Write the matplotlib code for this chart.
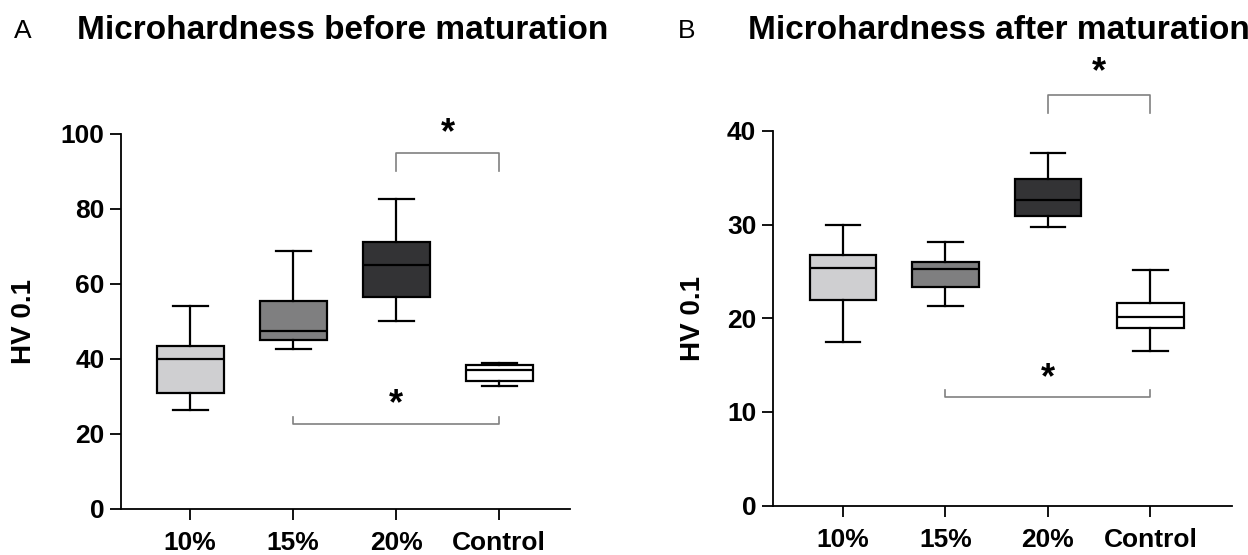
import matplotlib.pyplot as plt

plt.rcParams['font.family'] = ['Liberation Sans', 'DejaVu Sans']

groups = ['10%', '15%', '20%', 'Control']
box_colors = ['#cfcfd1', '#7f7f80', '#333335', '#ffffff']

# before maturation (HV 0.1): whisker low, Q1, median, Q3, whisker high
before_low = [26.4, 42.7, 50.0, 32.9]
before_q1 = [30.8, 45.1, 56.4, 34.2]
before_med = [39.9, 47.3, 64.9, 36.9]
before_q3 = [43.3, 55.4, 71.1, 38.3]
before_high = [54.0, 68.7, 82.6, 38.8]

# after maturation
after_low = [17.5, 21.3, 29.8, 16.5]
after_q1 = [21.9, 23.3, 30.95, 19.0]
after_med = [25.4, 25.3, 32.6, 20.1]
after_q3 = [26.8, 26.0, 34.9, 21.6]
after_high = [30.0, 28.1, 37.6, 25.2]


def make_stats(low, q1, med, q3, high):
    return [dict(whislo=a, q1=b, med=c, q3=d, whishi=e, fliers=[])
            for a, b, c, d, e in zip(low, q1, med, q3, high)]


def bracket(ax, x1, x2, y, tip, star_y, color='#808080'):
    # tip < y -> legs hang down, tip > y -> legs point up
    ax.plot([x1, x1, x2, x2], [tip, y, y, tip], color=color, lw=1.2, clip_on=False)
    ax.text((x1 + x2) / 2, star_y, '*', ha='center', va='center',
            fontsize=26, fontweight='bold', clip_on=False)


def draw_panel(ax, stats, ymax, ystep, xlim, label_x):
    bp = ax.bxp(stats, positions=[1, 2, 3, 4], widths=0.65, patch_artist=True,
                showfliers=False, capwidths=0.34,
                boxprops=dict(linewidth=1.6, edgecolor='black'),
                medianprops=dict(color='black', linewidth=1.6),
                whiskerprops=dict(color='black', linewidth=1.6),
                capprops=dict(color='black', linewidth=1.6))
    for patch, c in zip(bp['boxes'], box_colors):
        patch.set_facecolor(c)
    ax.set_xlim(*xlim)
    ax.set_ylim(0, ymax)
    ax.set_yticks(range(0, ymax + 1, ystep))
    ax.set_xticks([1, 2, 3, 4])
    ax.set_xticklabels(groups)
    for s in ['top', 'right']:
        ax.spines[s].set_visible(False)
    for s in ['left', 'bottom']:
        ax.spines[s].set_linewidth(1.3)
    ax.tick_params(axis='both', length=8, width=1.3, labelsize=19, pad=4)
    ax.tick_params(axis='x', pad=8)
    for lab in ax.get_xticklabels() + ax.get_yticklabels():
        lab.set_fontweight('bold')
    ax.set_ylabel('HV 0.1', fontsize=20, fontweight='bold')
    ax.yaxis.set_label_coords(label_x, 0.5)


fig = plt.figure(figsize=(12.48, 5.55), dpi=100)

axA = fig.add_axes([0.097, 0.083, 0.360, 0.676])
draw_panel(axA, make_stats(before_low, before_q1, before_med, before_q3, before_high),
           100, 20, (0.33, 4.69), -0.188)
bracket(axA, 3, 4, 95, 90, 100)
bracket(axA, 2, 4, 22.6, 24.4, 27.7)

axB = fig.add_axes([0.6194, 0.089, 0.368, 0.675])
draw_panel(axB, make_stats(after_low, after_q1, after_med, after_q3, after_high),
           40, 10, (0.316, 4.8), -0.146)
bracket(axB, 3, 4, 43.8, 41.9, 46.2)
bracket(axB, 2, 4, 11.6, 12.3, 13.6)

fig.text(0.018, 0.945, 'A', fontsize=19, va='center', ha='center')
fig.text(0.062, 0.945, 'Microhardness before maturation', fontsize=24,
         fontweight='bold', va='center', ha='left')
fig.text(0.550, 0.945, 'B', fontsize=19, va='center', ha='center')
fig.text(0.599, 0.945, 'Microhardness after maturation', fontsize=24,
         fontweight='bold', va='center', ha='left')

fig.savefig('out.png', dpi=100)
